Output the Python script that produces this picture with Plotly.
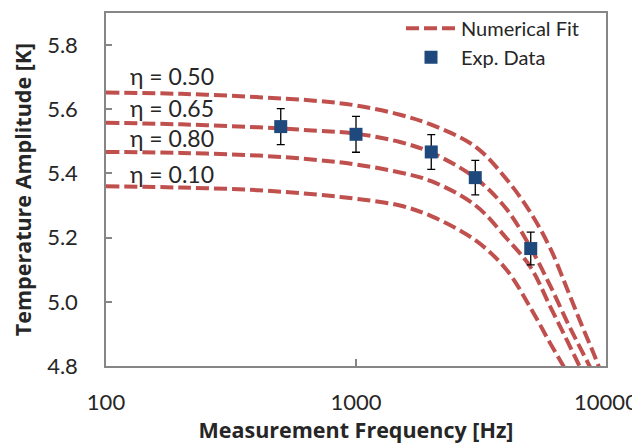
import plotly.graph_objects as go

# ---- data ----
fit_freq = [100, 200, 400, 700, 1000, 1500, 2000, 3000, 4000, 5000, 6000, 7000, 8000, 9000, 10000]
fit_eta_050 = [5.652, 5.648, 5.638, 5.626, 5.612, 5.583, 5.552, 5.484, 5.382, 5.277, 5.165, 5.039, 4.927, 4.832, 4.739]
fit_eta_065 = [5.558, 5.553, 5.544, 5.533, 5.524, 5.498, 5.465, 5.386, 5.289, 5.168, 5.048, 4.937, 4.847, 4.770, 4.702]
fit_eta_080 = [5.467, 5.464, 5.456, 5.442, 5.428, 5.403, 5.376, 5.301, 5.198, 5.107, 4.983, 4.878, 4.785, 4.702, 4.627]
fit_eta_010 = [5.360, 5.356, 5.348, 5.334, 5.321, 5.300, 5.267, 5.192, 5.100, 4.980, 4.869, 4.779, 4.699, 4.627, 4.566]
fit_labels = ["η = 0.50", "η = 0.65", "η = 0.80", "η = 0.10"]
label_y = [5.705, 5.603, 5.512, 5.398]

exp_freq = [500, 1000, 2000, 3000, 5000]
exp_amp = [5.546, 5.522, 5.467, 5.387, 5.166]
exp_err = [0.056, 0.056, 0.054, 0.054, 0.051]

x_ticks = [100, 1000, 10000]
y_ticks = [4.8, 5.0, 5.2, 5.4, 5.6, 5.8]

FONT = "Lato, 'Open Sans', sans-serif"
TFONT = "'Open Sans', Lato, sans-serif"
RED = "#C0504D"
BLUE = "#1F497D"
TXT = "#262626"

fig = go.Figure()

for i, ys in enumerate([fit_eta_050, fit_eta_065, fit_eta_080, fit_eta_010]):
    fig.add_trace(go.Scatter(
        x=fit_freq, y=ys, mode="lines", name="Numerical Fit",
        legendgroup="fit", showlegend=(i == 0),
        line=dict(color=RED, width=4, dash="13px,5px", shape="spline", smoothing=1.0),
    ))

fig.add_trace(go.Scatter(
    x=exp_freq, y=exp_amp, mode="markers", name="Exp. Data",
    marker=dict(symbol="square", size=13, color=BLUE),
    error_y=dict(type="data", array=exp_err, visible=True, color="#000000", thickness=1.3, width=4),
))

for lab, yv in zip(fit_labels, label_y):
    fig.add_annotation(x=2.088, y=yv, xref="x", yref="y", text=lab, showarrow=False,
                       xanchor="left", yanchor="middle",
                       font=dict(family=FONT, size=23, color=TXT))

# the page body adds an 8px offset; margins compensate so the plot lands where the reference has it
fig.update_layout(
    width=640, height=448,
    margin=dict(l=98, r=42, t=1, b=90),
    paper_bgcolor="white", plot_bgcolor="white",
    font=dict(family=FONT, color=TXT),
    showlegend=True,
    legend=dict(x=0.59, y=1.012, xanchor="left", yanchor="top",
                bgcolor="rgba(0,0,0,0)", font=dict(family=FONT, size=20, color=TXT),
                tracegroupgap=0, itemwidth=50),
)

fig.update_xaxes(
    type="log", range=[2, 4], tickvals=x_ticks, ticktext=[str(v) for v in x_ticks],
    ticks="inside", ticklen=7, tickcolor="#868686", tickwidth=1.5,
    showline=True, linecolor="#868686", linewidth=1.5, mirror=True,
    showgrid=False, zeroline=False, automargin=False,
    tickfont=dict(family=FONT, size=22, color=TXT), ticklabelstandoff=16,
    title=dict(text="<b>Measurement Frequency [Hz]</b>", font=dict(family=TFONT, size=21.5, color=TXT), standoff=8),
)
fig.update_yaxes(
    range=[4.8, 5.9], tickvals=y_ticks, ticktext=[f"{v:.1f}" for v in y_ticks],
    ticks="inside", ticklen=6, tickcolor="#868686", tickwidth=1.5,
    showline=True, linecolor="#868686", linewidth=1.5, mirror=True,
    showgrid=False, zeroline=False, automargin=False,
    tickfont=dict(family=FONT, size=22, color=TXT), ticklabelstandoff=22,
    title=dict(text="<b>Temperature Amplitude [K]</b>", font=dict(family=TFONT, size=21.5, color=TXT), standoff=10),
)

fig.write_html("out.html")
